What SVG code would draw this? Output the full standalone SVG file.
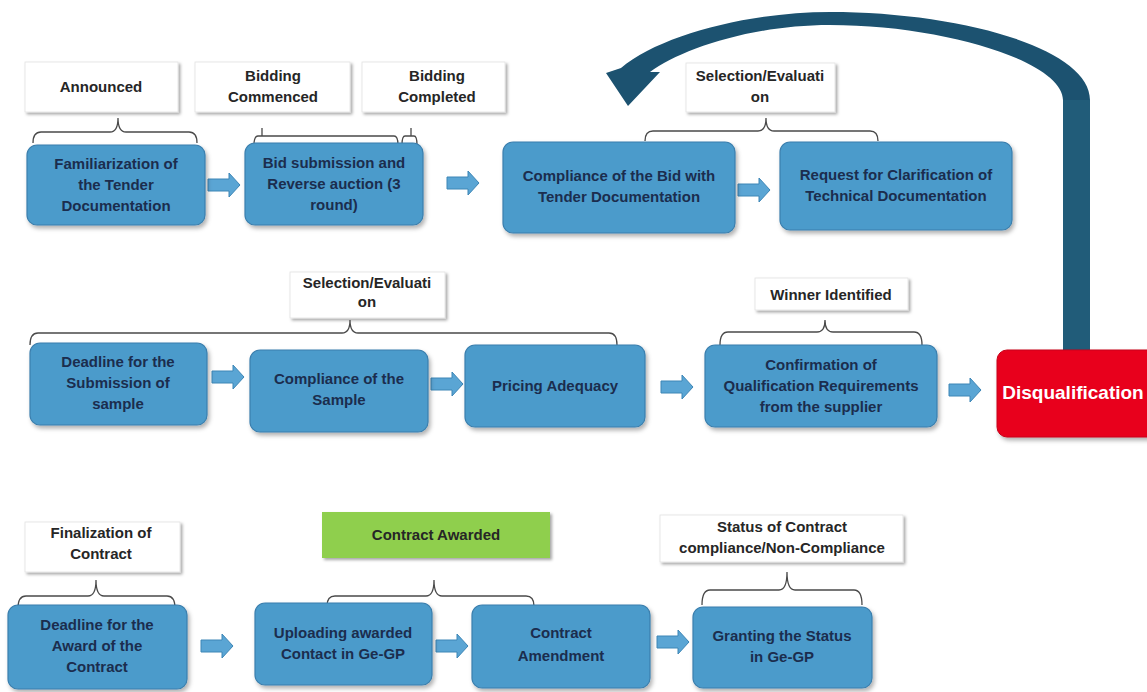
<svg xmlns="http://www.w3.org/2000/svg" xmlns:xlink="http://www.w3.org/1999/xlink" width="1147" height="692" viewBox="0 0 1147 692">
<style>
.node{fill:#4c9bcb;stroke:#3a7fae;stroke-width:1.2;filter:url(#sh)}
.lbl{fill:#ffffff;stroke:#e2e2e2;stroke-width:0.8;filter:url(#lsh)}
.nt{font-family:"Liberation Sans",Arial,sans-serif;font-weight:bold;font-size:15px;fill:#1b2d4e;text-anchor:middle}
.lt{font-family:"Liberation Sans",Arial,sans-serif;font-weight:bold;font-size:15px;fill:#262626;text-anchor:middle}
.br{fill:none;stroke:#4a4a4a;stroke-width:1.3}
.ba{fill:#5aa5d4;stroke:#3d86b6;stroke-width:1}
</style>
<defs>
<filter id="sh" x="-10%" y="-10%" width="130%" height="140%">
<feDropShadow dx="2" dy="3" stdDeviation="2" flood-color="#000" flood-opacity="0.3"/>
</filter>
<filter id="lsh" x="-10%" y="-10%" width="130%" height="140%">
<feDropShadow dx="2" dy="2" stdDeviation="1.5" flood-color="#000" flood-opacity="0.35"/>
</filter>
<path id="blk" d="M0,-6 H21 V-12 L32,0 L21,12 V6 H0 Z"/>
</defs>
<rect width="1147" height="692" fill="#ffffff"/>

<!-- labels -->
<g id="lbl-announced"><rect class="lbl" x="25" y="62" width="153" height="50"/><text class="lt" x="101" y="92">Announced</text></g>
<g id="lbl-commenced"><rect class="lbl" x="195" y="62" width="155" height="50"/><text class="lt" x="273" y="81">Bidding</text><text class="lt" x="273" y="102">Commenced</text></g>
<g id="lbl-completed"><rect class="lbl" x="362" y="62" width="143" height="50"/><text class="lt" x="437" y="81">Bidding</text><text class="lt" x="437" y="102">Completed</text></g>
<g id="lbl-sel1"><rect class="lbl" x="686" y="63" width="149" height="49"/><text class="lt" x="760" y="81">Selection/Evaluati</text><text class="lt" x="760" y="102">on</text></g>
<g id="lbl-sel2"><rect class="lbl" x="290" y="272" width="155" height="46"/><text class="lt" x="367" y="288">Selection/Evaluati</text><text class="lt" x="367" y="307">on</text></g>
<g id="lbl-winner"><rect class="lbl" x="755" y="278" width="153" height="32"/><text class="lt" x="831" y="300">Winner Identified</text></g>
<g id="lbl-final"><rect class="lbl" x="25" y="522" width="155" height="50"/><text class="lt" x="101" y="538">Finalization of</text><text class="lt" x="101" y="559">Contract</text></g>
<g id="lbl-awarded"><rect x="322" y="512" width="228" height="46" fill="#8fcf4e" filter="url(#lsh)"/><text class="lt" x="436" y="540">Contract Awarded</text></g>
<g id="lbl-status"><rect class="lbl" x="660" y="515" width="243" height="47"/><text class="lt" x="782" y="532">Status of Contract</text><text class="lt" x="782" y="553">compliance/Non-Compliance</text></g>

<!-- braces -->
<g id="braces">
<path class="br" d="M33,143 Q33,132 41,132 L110,132 Q118,132 118,118 Q118,132 126,132 L189,132 Q197,132 197,143"/>
<path class="br" d="M254,145 Q254,136 258,136 L394,136 Q398,136 398,145 M262,136 V128"/>
<path class="br" d="M402,145 Q402,136 405,136 L414,136 Q417,136 417,145 M411,136 V128"/>
<path class="br" d="M645,141 Q645,131 653,131 L758,131 Q766,131 766,118 Q766,131 774,131 L870,131 Q878,131 878,141"/>
<path class="br" d="M30,345 Q30,333 38,333 L342,333 Q350,333 350,320 Q350,333 358,333 L609,333 Q617,333 617,345"/>
<path class="br" d="M720,345 Q720,332 728,332 L817,332 Q825,332 825,320 Q825,332 833,332 L914,332 Q922,332 922,345"/>
<path class="br" d="M18,608 Q18,596 26,596 L88,596 Q96,596 96,580 Q96,596 104,596 L167,596 Q175,596 175,608"/>
<path class="br" d="M327,606 Q327,596 335,596 L426,596 Q434,596 434,580 Q434,596 442,596 L526,596 Q534,596 534,606"/>
<path class="br" d="M702,605 Q702,590 710,590 L779,590 Q787,590 787,572 Q787,590 795,590 L854,590 Q862,590 862,605"/>
</g>

<!-- connectors -->
<g id="connectors">
<use href="#blk" class="ba" x="208" y="185"/>
<use href="#blk" class="ba" x="447" y="183"/>
<use href="#blk" class="ba" x="738" y="190"/>
<use href="#blk" class="ba" x="212" y="377"/>
<use href="#blk" class="ba" x="431" y="384"/>
<use href="#blk" class="ba" x="661" y="387"/>
<use href="#blk" class="ba" x="949" y="390"/>
<use href="#blk" class="ba" x="201" y="646"/>
<use href="#blk" class="ba" x="436" y="646"/>
<use href="#blk" class="ba" x="657" y="642"/>
<path id="loop-arrow" fill="#1c5270" d="M1090,352 L1090,100 C1090,48 960,12 830,12 C750,12 660,35 621,68 L606,73 L628,106 L660,72 L650,72 C680,50 750,25 830,25 C945,25 1063,62 1063,100 L1063,352 Z"/>
<rect x="1063" y="100" width="27" height="252" fill="#215c79"/>
</g>

<!-- nodes -->
<g id="n-familiar"><rect class="node" x="27" y="145" width="178" height="80" rx="10"/><text class="nt" x="116" y="169">Familiarization of</text><text class="nt" x="116" y="190">the Tender</text><text class="nt" x="116" y="211">Documentation</text></g>
<g id="n-bid"><rect class="node" x="245" y="143" width="178" height="82" rx="10"/><text class="nt" x="334" y="168">Bid submission and</text><text class="nt" x="334" y="189">Reverse auction (3</text><text class="nt" x="334" y="210">round)</text></g>
<g id="n-compl-bid"><rect class="node" x="503" y="142" width="232" height="91" rx="10"/><text class="nt" x="619" y="181">Compliance of the Bid with</text><text class="nt" x="619" y="202">Tender Documentation</text></g>
<g id="n-request"><rect class="node" x="780" y="142" width="232" height="88" rx="10"/><text class="nt" x="896" y="180">Request for Clarification of</text><text class="nt" x="896" y="201">Technical Documentation</text></g>
<g id="n-deadline-sample"><rect class="node" x="30" y="343" width="177" height="82" rx="10"/><text class="nt" x="118" y="367">Deadline for the</text><text class="nt" x="118" y="388">Submission of</text><text class="nt" x="118" y="409">sample</text></g>
<g id="n-compl-sample"><rect class="node" x="250" y="350" width="178" height="82" rx="10"/><text class="nt" x="339" y="384">Compliance of the</text><text class="nt" x="339" y="405">Sample</text></g>
<g id="n-pricing"><rect class="node" x="465" y="345" width="180" height="82" rx="10"/><text class="nt" x="555" y="391">Pricing Adequacy</text></g>
<g id="n-confirm"><rect class="node" x="705" y="345" width="232" height="82" rx="10"/><text class="nt" x="821" y="370">Confirmation of</text><text class="nt" x="821" y="391">Qualification Requirements</text><text class="nt" x="821" y="412">from the supplier</text></g>
<g id="n-disq"><rect x="997" y="350" width="170" height="87" rx="10" fill="#e8001e" stroke="#c70018" stroke-width="1" filter="url(#sh)"/><text x="1073" y="399" font-family="'Liberation Sans',Arial,sans-serif" font-weight="bold" font-size="19" fill="#ffffff" text-anchor="middle">Disqualification</text></g>
<g id="n-deadline-award"><rect class="node" x="8" y="605" width="179" height="84" rx="10"/><text class="nt" x="97" y="630">Deadline for the</text><text class="nt" x="97" y="651">Award of the</text><text class="nt" x="97" y="672">Contract</text></g>
<g id="n-upload"><rect class="node" x="255" y="603" width="177" height="82" rx="10"/><text class="nt" x="343" y="638">Uploading awarded</text><text class="nt" x="343" y="659">Contact in Ge-GP</text></g>
<g id="n-amend"><rect class="node" x="472" y="605" width="178" height="83" rx="10"/><text class="nt" x="561" y="638">Contract</text><text class="nt" x="561" y="661">Amendment</text></g>
<g id="n-granting"><rect class="node" x="693" y="607" width="179" height="81" rx="10"/><text class="nt" x="782" y="641">Granting the Status</text><text class="nt" x="782" y="662">in Ge-GP</text></g>
</svg>
